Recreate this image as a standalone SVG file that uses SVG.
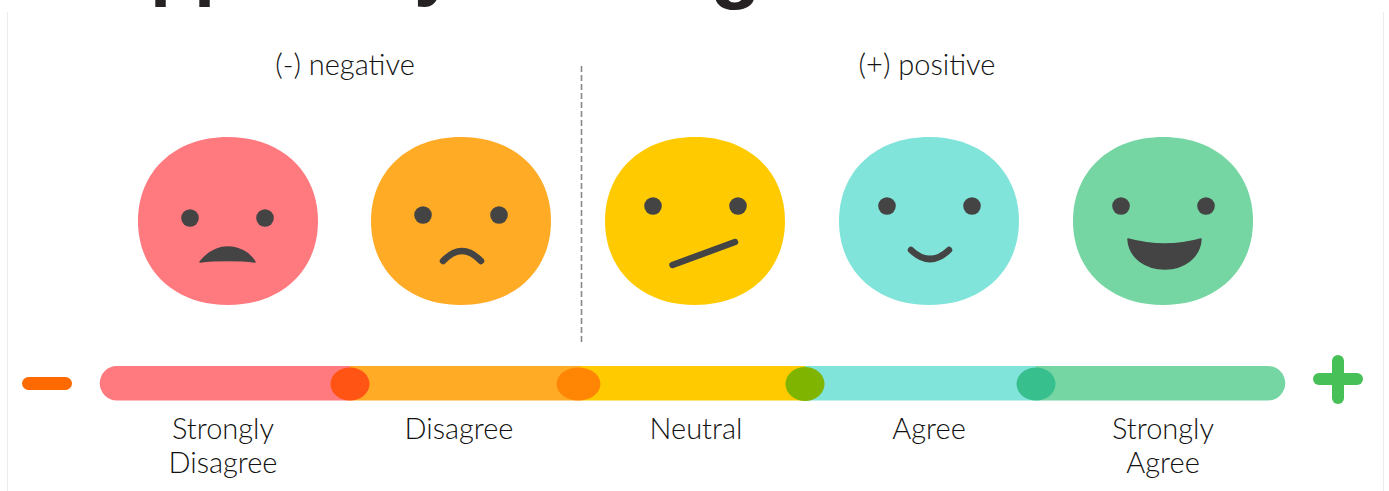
<svg xmlns="http://www.w3.org/2000/svg" xmlns:xlink="http://www.w3.org/1999/xlink" width="1389" height="491" viewBox="0 0 1389 491">
<style>
.label{font-family:Lato,"Open Sans",sans-serif;font-weight:300;font-size:29px;fill:#111;text-anchor:middle}
.title{font-family:"Liberation Sans",sans-serif;font-weight:700;font-size:76px;fill:#262224}
.eye{fill:#444}
.mouth{fill:none;stroke:#444;stroke-linecap:round;stroke-width:6.500}
.solid{fill:#444;stroke:#444;stroke-width:1.500;stroke-linejoin:round}
</style>
<defs><path id="blob" d="M0,-84C54,-84 90,-49 90,0C90,49 54,84 0,84C-54,84 -90,49 -90,0C-90,-49 -54,-84 0,-84Z"/></defs>
<rect width="1389" height="491" fill="#fff"/>
<path d="M7.500,12V491M1383.500,12V491" fill="none" stroke="#ececec"/>
<g id="title-fragment">
<text class="title" x="150" y="-9">p</text><text class="title" x="194" y="-9">p</text><text class="title" x="414" y="-9">y</text><text class="title" x="710" y="-7" style="font-size:84px">g</text>
</g>
<g id="heading-negative"><text class="label" x="345" y="75">(-) negative</text></g>
<g id="heading-positive"><text class="label" x="927" y="75">(+) positive</text></g>
<g id="connectors"><line x1="581.500" y1="66" x2="581.500" y2="344" stroke="#888" stroke-width="1.600" stroke-dasharray="6 3"/></g>
<g id="face-strongly-disagree"><use xlink:href="#blob" href="#blob" x="228" y="221" fill="#ff7a7f"/><circle class="eye" cx="190" cy="218" r="8.800"/><circle class="eye" cx="265" cy="218" r="8.800"/><path class="solid" d="M200,262C208,252 218,247 228,247C238,247 249,252 255,262C240,260 215,260 200,262Z"/></g>
<g id="face-disagree"><use xlink:href="#blob" href="#blob" x="461" y="221" fill="#ffab26"/><circle class="eye" cx="423" cy="215" r="8.800"/><circle class="eye" cx="499" cy="215" r="8.800"/><path class="mouth" d="M443,261Q462,241 481,261"/></g>
<g id="face-neutral"><use xlink:href="#blob" href="#blob" x="695" y="221" fill="#ffcb00"/><circle class="eye" cx="653" cy="206" r="8.800"/><circle class="eye" cx="738" cy="206" r="8.800"/><path class="mouth" d="M672.500,265L735,242"/></g>
<g id="face-agree"><use xlink:href="#blob" href="#blob" x="929" y="221" fill="#80e4db"/><circle class="eye" cx="887" cy="206" r="8.800"/><circle class="eye" cx="972" cy="206" r="8.800"/><path class="mouth" d="M911,250Q930,268 949,250"/></g>
<g id="face-strongly-agree"><use xlink:href="#blob" href="#blob" x="1163" y="221" fill="#76d6a3"/><circle class="eye" cx="1121" cy="206" r="8.800"/><circle class="eye" cx="1206" cy="206" r="8.800"/><path class="solid" d="M1128,239Q1165,249 1201,239C1200,258 1183,269 1165,269C1146,269 1129,258 1128,239Z"/></g>
<g id="scale-minus"><rect x="22" y="377" width="50" height="13" rx="6.500" fill="#ff6a00"/></g>
<g id="scale-bar">
<path d="M350,366H117A17,17 0 0 0 117,400.500H350Z" fill="#ff7a7f"/>
<rect x="350" y="366" width="230" height="34.500" fill="#ffab26"/>
<rect x="580" y="366" width="225" height="34.500" fill="#ffcb00"/>
<rect x="805" y="366" width="231" height="34.500" fill="#80e4db"/>
<path d="M1036,366H1268A17,17 0 0 1 1268,400.500H1036Z" fill="#76d6a3"/>
<ellipse cx="350" cy="384" rx="19.500" ry="16.500" fill="#ff5413"/>
<ellipse cx="578.500" cy="384" rx="22" ry="16.500" fill="#ff8505"/>
<ellipse cx="805" cy="384" rx="19.500" ry="17" fill="#7fb500"/>
<ellipse cx="1036" cy="384" rx="19.500" ry="16.500" fill="#38bf8e"/>
</g>
<g id="scale-plus"><rect x="1313" y="373" width="50" height="12" rx="6" fill="#48c058"/><rect x="1332" y="355" width="12" height="49" rx="6" fill="#48c058"/></g>
<g id="label-strongly-disagree"><text class="label" x="223" y="439">Strongly</text><text class="label" x="223" y="473">Disagree</text></g>
<g id="label-disagree"><text class="label" x="459" y="439">Disagree</text></g>
<g id="label-neutral"><text class="label" x="696" y="439">Neutral</text></g>
<g id="label-agree"><text class="label" x="929" y="439">Agree</text></g>
<g id="label-strongly-agree"><text class="label" x="1163" y="439">Strongly</text><text class="label" x="1163" y="473">Agree</text></g>
</svg>
